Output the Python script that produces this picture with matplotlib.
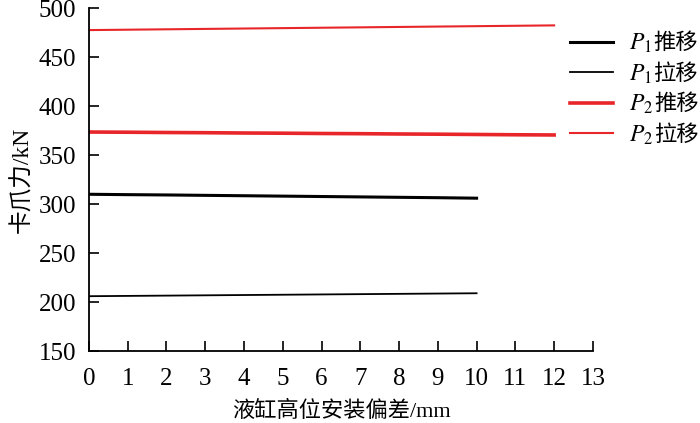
import matplotlib
matplotlib.use('Agg')
import matplotlib.pyplot as plt

plt.rcParams['font.family'] = ['Liberation Serif', 'Noto Sans CJK SC']
plt.rcParams['mathtext.fontset'] = 'stix'

# 数据
x_p1 = [0, 1, 2, 3, 4, 5, 6, 7, 8, 9, 10]
p1_push = [310, 309.6, 309.3, 308.9, 308.5, 308.1, 307.7, 307.3, 306.9, 306.5, 306]
p1_pull = [206, 206.3, 206.6, 206.9, 207.2, 207.5, 207.8, 208.1, 208.4, 208.7, 209]

x_p2 = [0, 1, 2, 3, 4, 5, 6, 7, 8, 9, 10, 11, 12]
p2_push = [373.5, 373.3, 373, 372.8, 372.5, 372.3, 372, 371.8, 371.5, 371.3, 371, 370.7, 370.5]
p2_pull = [477.5, 477.9, 478.3, 478.7, 479.1, 479.5, 479.9, 480.3, 480.7, 481.1, 481.5, 481.9, 482.3]

# 图例: 符号部分 + 汉字部分 (mathtext 里没有汉字字形, 分开画)
sym_labels = [r'$P_1$', r'$P_1$', r'$P_2$', r'$P_2$']
cn_labels = ['推移', '拉移', '推移', '拉移']

fig = plt.figure(figsize=(7, 4.23), dpi=100)
ax = fig.add_axes([0.127, 0.170, 0.720, 0.811])

ax.plot(x_p1, p1_push, color='black', lw=2.2, label=sym_labels[0])
ax.plot(x_p1, p1_pull, color='black', lw=1.3, label=sym_labels[1])
ax.plot(x_p2, p2_push, color='#e8262a', lw=2.6, label=sym_labels[2])
ax.plot(x_p2, p2_pull, color='#e8262a', lw=1.5, label=sym_labels[3])

ax.set_xlim(0, 13)
ax.set_ylim(150, 500)
ax.set_xticks(range(0, 14))
ax.set_yticks(range(150, 501, 50))

for s in ['top', 'right']:
    ax.spines[s].set_visible(False)
for s in ['left', 'bottom']:
    ax.spines[s].set_linewidth(1.3)

ax.tick_params(direction='in', length=7, width=1.2, labelsize=18)
ax.tick_params(axis='x', pad=12)
ax.tick_params(axis='y', pad=9)
ax.set_xlabel('液缸高位安装偏差/mm', fontsize=16, labelpad=8)
ax.set_ylabel('卡爪力/kN', fontsize=17, labelpad=4)

leg = ax.legend(loc='upper left', bbox_to_anchor=(0.955, 0.93), frameon=False,
                fontsize=17, handlelength=1.8, handletextpad=0.7, labelspacing=0.3,
                borderpad=0, borderaxespad=0)

# 先画一次, 拿到图例文字的位置, 再在后面接上汉字
fig.canvas.draw()
inv = fig.transFigure.inverted()
for txt, cn in zip(leg.get_texts(), cn_labels):
    bb = txt.get_window_extent()
    fx, fy = inv.transform((bb.x1 + 1, bb.y0 + 1))
    fig.text(fx, fy, cn, ha='left', va='bottom', fontsize=16)

fig.savefig('out.png', dpi=100)
